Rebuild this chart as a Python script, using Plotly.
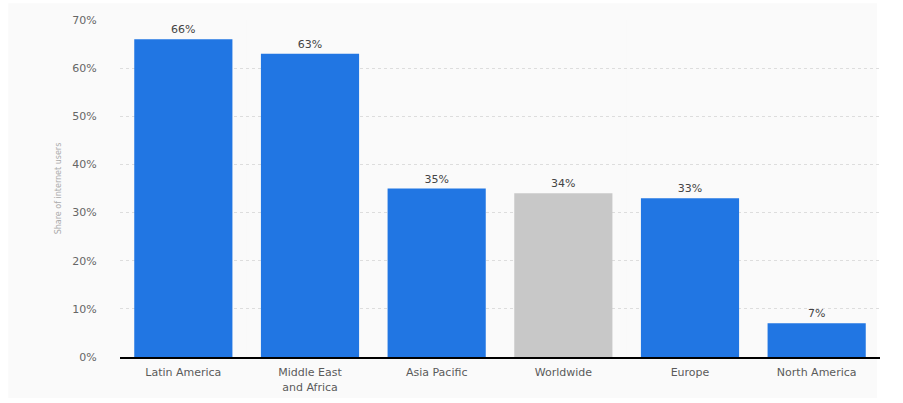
import plotly.graph_objects as go

# Share of internet users by region
regions = ["Latin America", "Middle East<br>and Africa", "Asia Pacific",
           "Worldwide", "Europe", "North America"]
shares = [66, 63, 35, 34, 33, 7]
bar_colors = ["#2176e3", "#2176e3", "#2176e3", "#c8c8c8", "#2176e3", "#2176e3"]
y_ticks = [0, 10, 20, 30, 40, 50, 60, 70]
y_tick_text = [f"{v}%" for v in y_ticks]

fig = go.Figure(
    go.Bar(
        x=list(range(len(regions))),
        y=shares,
        marker=dict(color=bar_colors, line=dict(width=0)),
        width=0.775,
        text=[f"{v}%" for v in shares],
        textposition="outside",
        textfont=dict(size=11, color="#444444"),
        cliponaxis=False,
        hoverinfo="skip",
    )
)

# light card behind everything
shapes = [dict(type="rect", xref="paper", yref="paper",
               x0=-0.147, x1=0.996, y0=-0.122, y1=1.05,
               fillcolor="#fafafa", line=dict(width=0), layer="below")]
# alternating category bands
for i in range(len(regions)):
    if i % 2 == 0:
        shapes.append(dict(type="rect", xref="x", yref="paper",
                           x0=i - 0.5, x1=i + 0.5, y0=0, y1=1,
                           fillcolor="#fafafa", line=dict(width=0), layer="below"))

fig.update_layout(
    width=903, height=403,
    margin=dict(l=120, r=23, t=20, b=46, autoexpand=False),
    paper_bgcolor="#ffffff",
    plot_bgcolor="#ffffff",
    font=dict(family="DejaVu Sans, sans-serif", color="#666666"),
    showlegend=False,
    shapes=shapes,
)
fig.update_xaxes(
    tickmode="array",
    tickvals=list(range(len(regions))),
    ticktext=regions,
    range=[-0.5, len(regions) - 0.5],
    showgrid=False, automargin=False,
    showline=True, linecolor="#000000", linewidth=2,
    ticks="outside", ticklen=4, tickcolor="rgba(0,0,0,0)",
    tickfont=dict(size=11, color="#5a5a5a"),
)
fig.update_yaxes(
    range=[0, 70], automargin=False,
    tickmode="array",
    tickvals=y_ticks,
    ticktext=y_tick_text,
    showgrid=True, gridcolor="#dddddd", griddash="dot", gridwidth=1,
    zeroline=False,
    ticks="outside", ticklen=20, tickcolor="rgba(0,0,0,0)",
    tickfont=dict(size=11, color="#666666"),
    title=dict(text="Share of internet users", font=dict(size=8, color="#aaaaaa"),
               standoff=9),
)

fig.write_html("out.html")
